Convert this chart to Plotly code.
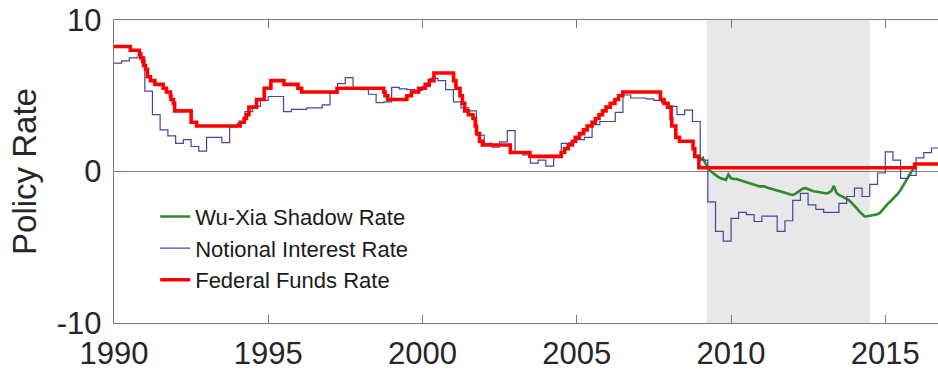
import pandas as pd
import plotly.graph_objects as go

# Federal funds target: dates of each change and the new target level (%)
ffr_dates = [
    "1990-01-01", "1990-07-13", "1990-10-29", "1990-11-14", "1990-12-07", "1990-12-19",
    "1991-01-09", "1991-02-01", "1991-03-08", "1991-04-30", "1991-08-06", "1991-09-13",
    "1991-10-31", "1991-11-06", "1991-12-06", "1991-12-20", "1992-07-02", "1992-09-04",
    "1994-02-04", "1994-03-22", "1994-04-18", "1994-05-17", "1994-08-16", "1994-11-15",
    "1995-02-01", "1995-07-06", "1995-12-19", "1996-01-31", "1997-03-25", "1998-09-29",
    "1998-10-15", "1998-11-17", "1999-06-30", "1999-08-24", "1999-11-16", "2000-02-02",
    "2000-03-21", "2000-05-16", "2001-01-03", "2001-01-31", "2001-03-20", "2001-04-18",
    "2001-05-15", "2001-06-27", "2001-08-21", "2001-09-17", "2001-10-02", "2001-11-06",
    "2001-12-11", "2002-11-06", "2003-06-25", "2004-06-30", "2004-08-10", "2004-09-21",
    "2004-11-10", "2004-12-14", "2005-02-02", "2005-03-22", "2005-05-03", "2005-06-30",
    "2005-08-09", "2005-09-20", "2005-11-01", "2005-12-13", "2006-01-31", "2006-03-28",
    "2006-05-10", "2006-06-29", "2007-09-18", "2007-10-31", "2007-12-11", "2008-01-22",
    "2008-01-30", "2008-03-18", "2008-04-30", "2008-10-08", "2008-10-29", "2008-12-16",
    "2015-12-16", "2016-12-14",
]
ffr_levels = [
    8.25, 8.0, 7.75, 7.5, 7.25, 7.0,
    6.75, 6.25, 6.0, 5.75, 5.5, 5.25,
    5.0, 4.75, 4.5, 4.0, 3.25, 3.0,
    3.25, 3.5, 3.75, 4.25, 4.75, 5.5,
    6.0, 5.75, 5.5, 5.25, 5.5, 5.25,
    5.0, 4.75, 5.0, 5.25, 5.5, 5.75,
    6.0, 6.5, 6.0, 5.5, 5.0, 4.5,
    4.0, 3.75, 3.5, 3.0, 2.5, 2.0,
    1.75, 1.25, 1.0, 1.25, 1.5, 1.75,
    2.0, 2.25, 2.5, 2.75, 3.0, 3.25,
    3.5, 3.75, 4.0, 4.25, 4.5, 4.75,
    5.0, 5.25, 4.75, 4.5, 4.25, 3.5,
    3.0, 2.25, 2.0, 1.5, 1.0, 0.25,
    0.5, 0.75,
]

# Notional interest rate, quarterly (1990Q1 - 2016Q3)
notional_start = "1990-01-01"
notional_rate = [
    7.15, 7.3, 7.5, 7.55,      # 1990
    5.3, 3.75, 2.75, 2.35,     # 1991
    1.85, 2.1, 1.65, 1.35,     # 1992
    2.25, 2.25, 1.9, 2.95,     # 1993
    3.2, 3.95, 4.3, 4.7,       # 1994
    4.95, 4.95, 3.95, 4.1,     # 1995
    4.1, 4.2, 4.2, 4.4,        # 1996
    5.15, 5.8, 6.2, 5.45,      # 1997
    5.4, 5.1, 4.55, 4.6,       # 1998
    5.55, 5.45, 5.4, 5.35,     # 1999
    5.6, 6.15, 6.0, 5.4,       # 2000
    4.6, 4.2, 4.0, 2.4,        # 2001
    1.85, 1.6, 1.95, 2.7,      # 2002
    1.3, 1.1, 0.55, 0.75,      # 2003
    0.35, 0.95, 1.85, 1.9,     # 2004
    2.1, 2.25, 3.1, 3.3,       # 2005
    3.3, 3.9, 5.05, 4.85,      # 2006
    4.85, 4.8, 4.7, 4.55,      # 2007
    4.3, 3.75, 4.05, 3.3,      # 2008
    0.75, -2.0, -3.95, -4.6,   # 2009
    -3.1, -2.7, -2.85, -3.3,   # 2010
    -2.95, -2.95, -3.95, -3.25,  # 2011
    -1.9, -1.45, -2.2, -2.5,   # 2012
    -2.7, -2.7, -2.1, -1.65,   # 2013
    -1.1, -1.65, -0.85, -0.1,  # 2014
    1.3, 0.75, -0.45, -0.25,   # 2015
    0.9, 1.25, 1.55,           # 2016
]

# Wu-Xia shadow rate, monthly (Jan 2009 - Dec 2015)
shadow_start = "2009-01-01"
shadow_rate = [
    0.75, 0.9, 0.55, 0.3, 0.05, -0.1, -0.25, -0.35, -0.45, -0.5, -0.55, -0.2,
    -0.45, -0.5, -0.5, -0.55, -0.6, -0.62, -0.68, -0.72, -0.8, -0.85, -0.92, -0.98,
    -1.0, -0.98, -1.05, -1.1, -1.15, -1.18, -1.22, -1.3, -1.35, -1.4, -1.45, -1.52,
    -1.55, -1.48, -1.38, -1.25, -1.12, -1.1, -1.18, -1.25, -1.3, -1.32, -1.35, -1.4,
    -1.42, -1.45, -1.4, -1.3, -0.95, -1.4, -1.55, -1.62, -1.7, -1.8, -1.92, -2.08,
    -2.25, -2.45, -2.65, -2.82, -2.97, -2.95, -2.92, -2.9, -2.87, -2.82, -2.72, -2.5,
    -2.3, -2.12, -1.98, -1.82, -1.65, -1.45, -1.22, -0.95, -0.65, -0.35, -0.05, 0.15,
]

# Shaded period and axis settings
shade_span = ["2009-03-20", "2014-07-01"]
x_range = ["1990-01-01", "2016-09-16"]
x_tick_years = [1990, 1995, 2000, 2005, 2010, 2015]
y_ticks = [-10, 0, 10]
y_tick_text = ["-10", "0", "10"]

notional_dates = list(pd.date_range(notional_start, periods=len(notional_rate), freq="QS"))
notional_x = notional_dates + [notional_dates[-1] + pd.DateOffset(months=3)]
notional_y = notional_rate + [notional_rate[-1]]

shadow_dates = pd.date_range(shadow_start, periods=len(shadow_rate), freq="MS")

FONT = "Arial, 'Liberation Sans', sans-serif"
TEXT = "#262626"
AXIS = "#7a7a7a"

fig = go.Figure()

fig.add_trace(go.Scatter(
    x=shadow_dates, y=shadow_rate, mode="lines",
    name="Wu-Xia Shadow Rate", legendgroup="a",
    line=dict(color="#2b8a2b", width=2.6),
))
fig.add_trace(go.Scatter(
    x=notional_x, y=notional_y, mode="lines",
    name="Notional Interest Rate", legendgroup="b",
    line=dict(color="#45459c", width=1.2, shape="hv"),
))
fig.add_trace(go.Scatter(
    x=ffr_dates, y=ffr_levels, mode="lines",
    name="Federal Funds Rate", legendgroup="c",
    line=dict(color="#ff0000", width=3.6, shape="hv"),
))

fig.add_shape(type="rect", xref="x", yref="paper",
              x0=shade_span[0], x1=shade_span[1], y0=0, y1=1,
              fillcolor="#e8e8e8", line=dict(width=0), layer="below")
fig.add_shape(type="line", xref="paper", yref="y",
              x0=0, x1=1, y0=0, y1=0,
              line=dict(color="#808080", width=1.2), layer="below")

fig.update_layout(
    width=938, height=373,
    margin=dict(l=114, r=0, t=20, b=50),
    paper_bgcolor="white", plot_bgcolor="white",
    font=dict(family=FONT, color=TEXT),
    showlegend=True,
    legend=dict(
        x=0.05, y=0.42, xanchor="left", yanchor="top",
        bgcolor="rgba(0,0,0,0)", borderwidth=0,
        font=dict(family=FONT, size=22, color="#1a1a1a"),
        tracegroupgap=4, traceorder="normal",
    ),
)

fig.update_xaxes(
    type="date", range=x_range,
    tickvals=[f"{y}-01-01" for y in x_tick_years],
    ticktext=[str(y) for y in x_tick_years],
    tickfont=dict(size=31, color=TEXT, family=FONT),
    ticks="inside", ticklen=8, tickcolor=AXIS, tickwidth=1,
    ticklabelstandoff=3,
    showline=True, linecolor=AXIS, linewidth=1.4, mirror="ticks",
    showgrid=False, zeroline=False,
)
fig.update_yaxes(
    range=[-10, 10],
    tickvals=y_ticks, ticktext=y_tick_text,
    tickfont=dict(size=31, color=TEXT, family=FONT),
    ticks="inside", ticklen=8, tickcolor=AXIS, tickwidth=1,
    ticklabelstandoff=5,
    showline=True, linecolor=AXIS, linewidth=1.4, mirror=False,
    showgrid=False, zeroline=False,
    title=dict(text="Policy Rate", font=dict(size=33, color=TEXT, family=FONT), standoff=10),
)

fig.write_html("out.html")
